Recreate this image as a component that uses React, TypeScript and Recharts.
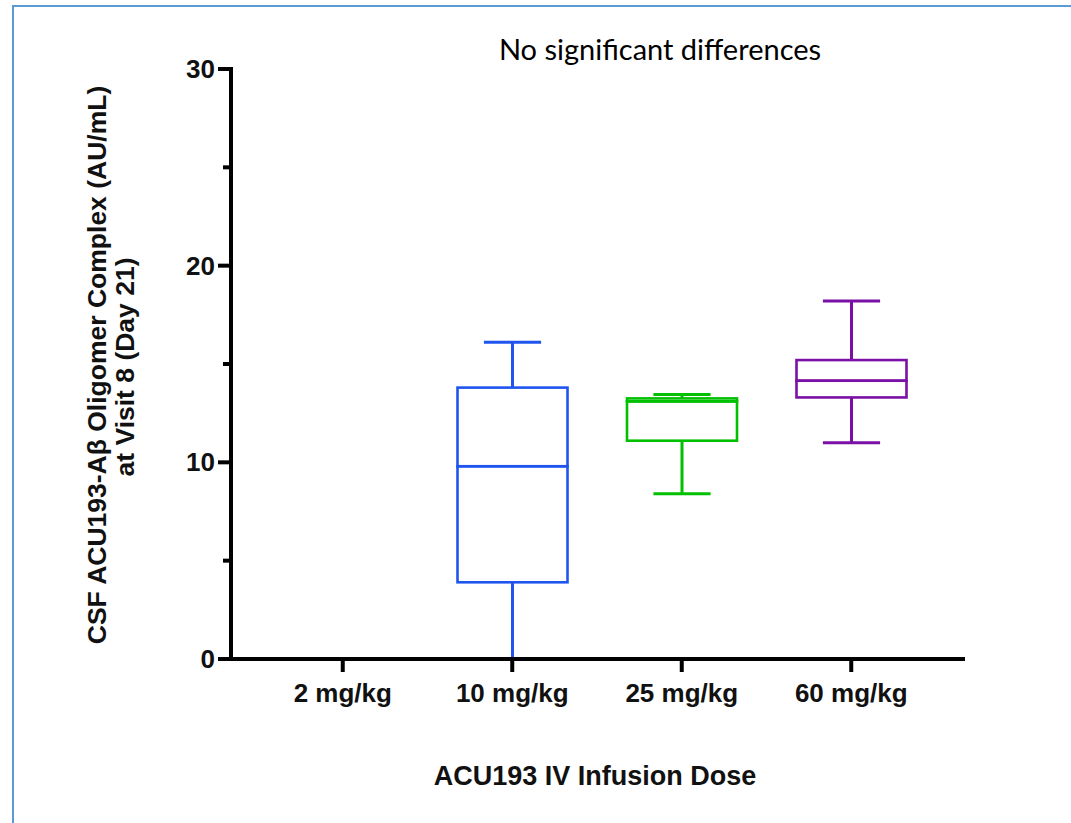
import { Bar, ComposedChart, XAxis, YAxis } from 'recharts';

// CSF ACU193-Aβ oligomer complex, box plot per dose (2 mg/kg has no data)
const doses = ['2 mg/kg', '10 mg/kg', '25 mg/kg', '60 mg/kg'];
const mins: (number | null)[] = [null, 0, 8.4, 11.0];
const q1s: (number | null)[] = [null, 3.9, 11.1, 13.3];
const medians: (number | null)[] = [null, 9.8, 13.1, 14.15];
const q3s: (number | null)[] = [null, 13.8, 13.25, 15.2];
const maxs: (number | null)[] = [null, 16.1, 13.45, 18.2];
const yTicks = [0, 5, 10, 15, 20, 25, 30];

const colors = ['#000000', '#1f55ee', '#00c000', '#7b10a6'];

const rows = doses.map((dose, i) => {
  const lo = mins[i], a = q1s[i], m = medians[i], b = q3s[i], hi = maxs[i];
  if (lo == null || a == null || m == null || b == null || hi == null) {
    return { dose, base: null, lowWhisker: null, lowerBox: null, upperBox: null, highWhisker: null };
  }
  return {
    dose,
    base: lo,
    lowWhisker: a - lo,
    lowerBox: m - a,
    upperBox: b - m,
    highWhisker: hi - b,
  };
});

const TICK = 13;
const GAP = 3;
const FONT = '"Liberation Sans", Arial, sans-serif';

const colorOf = (p: any) => colors[doses.indexOf(p?.dose)] ?? '#000';

function LowWhisker(props: any) {
  const { x, y, width, height, payload } = props;
  if (payload?.base == null) return null;
  const c = colorOf(payload);
  const cx = x + width / 2;
  const cap = width * 0.26;
  const bottom = y + height;
  return (
    <g>
      <line x1={cx} x2={cx} y1={y} y2={bottom} stroke={c} strokeWidth={3} />
      <line x1={cx - cap} x2={cx + cap} y1={bottom} y2={bottom} stroke={c} strokeWidth={3} />
    </g>
  );
}

function HighWhisker(props: any) {
  const { x, y, width, height, payload } = props;
  if (payload?.base == null) return null;
  const c = colorOf(payload);
  const cx = x + width / 2;
  const cap = width * 0.26;
  return (
    <g>
      <line x1={cx} x2={cx} y1={y} y2={y + height} stroke={c} strokeWidth={3} />
      <line x1={cx - cap} x2={cx + cap} y1={y} y2={y} stroke={c} strokeWidth={3} />
    </g>
  );
}

function BoxPart(props: any) {
  const { x, y, width, height, payload } = props;
  if (payload?.base == null) return null;
  return (
    <rect x={x} y={y} width={width} height={height} fill="none" stroke={colorOf(payload)} strokeWidth={2.6} />
  );
}

function YTick(props: any) {
  const { x, y, payload } = props;
  const axisX = x + TICK + GAP;
  const major = payload.value % 10 === 0;
  return (
    <g>
      <line x1={axisX - (major ? TICK : 8)} x2={axisX} y1={y} y2={y} stroke="#000" strokeWidth={4} />
      {major && (
        <text x={x} y={y} dy={9} textAnchor="end" fontFamily={FONT} fontWeight="bold" fontSize={26} fill="#111">
          {payload.value}
        </text>
      )}
    </g>
  );
}

function XTick(props: any) {
  const { x, y, payload } = props;
  return (
    <text x={x} y={y} dy={28} textAnchor="middle" fontFamily={FONT} fontWeight="bold" fontSize={26} fill="#111">
      {payload.value}
    </text>
  );
}

export default function App() {
  return (
    <div style={{ position: 'absolute', left: 0, top: 0, width: 1071, height: 823, background: '#fff', overflow: 'hidden' }}>
      <div
        style={{
          position: 'absolute',
          left: 12,
          top: 5,
          right: -10,
          bottom: -10,
          borderLeft: '2px solid #5b9bd5',
          borderTop: '2px solid #5b9bd5',
        }}
      />
      <div style={{ position: 'absolute', left: 0, top: 0 }}>
        <ComposedChart
          width={1071}
          height={823}
          data={rows}
          margin={{ top: 69, right: 106, bottom: 104, left: 151 }}
          barCategoryGap={0}
        >
          <XAxis
            dataKey="dose"
            type="category"
            height={60}
            padding={{ left: 27, right: 29 }}
            axisLine={{ stroke: '#000', strokeWidth: 4 }}
            tickLine={{ stroke: '#000', strokeWidth: 4 }}
            tickSize={TICK}
            tickMargin={2}
            tick={<XTick />}
            interval={0}
          />
          <YAxis
            type="number"
            domain={[0, 30]}
            ticks={yTicks}
            interval={0}
            width={80}
            axisLine={{ stroke: '#000', strokeWidth: 4, strokeLinecap: 'square' }}
            tickLine={false}
            tickSize={TICK}
            tickMargin={GAP}
            tick={<YTick />}
          />
          <Bar dataKey="base" stackId="box" barSize={110} fill="none" shape={() => null} isAnimationActive={false} />
          <Bar dataKey="lowWhisker" stackId="box" barSize={110} shape={<LowWhisker />} isAnimationActive={false} />
          <Bar dataKey="lowerBox" stackId="box" barSize={110} shape={<BoxPart />} isAnimationActive={false} />
          <Bar dataKey="upperBox" stackId="box" barSize={110} shape={<BoxPart />} isAnimationActive={false} />
          <Bar dataKey="highWhisker" stackId="box" barSize={110} shape={<HighWhisker />} isAnimationActive={false} />
          <text x={660} y={60} textAnchor="middle" fontFamily="Lato, 'Open Sans', sans-serif" fontSize={29} fill="#000">
            No significant differences
          </text>
          <text x={595} y={785} textAnchor="middle" fontFamily={FONT} fontWeight="bold" fontSize={27} fill="#111">
            ACU193 IV Infusion Dose
          </text>
          <g transform="translate(97, 365) rotate(-90)">
            <text x={0} y={0} textAnchor="middle" dominantBaseline="central" fontFamily={FONT} fontWeight="bold" fontSize={26.5} fill="#111">
              CSF ACU193-Aβ Oligomer Complex (AU/mL)
            </text>
          </g>
          <g transform="translate(125, 367) rotate(-90)">
            <text x={0} y={0} textAnchor="middle" dominantBaseline="central" fontFamily={FONT} fontWeight="bold" fontSize={26.5} fill="#111">
              at Visit 8 (Day 21)
            </text>
          </g>
        </ComposedChart>
      </div>
    </div>
  );
}
